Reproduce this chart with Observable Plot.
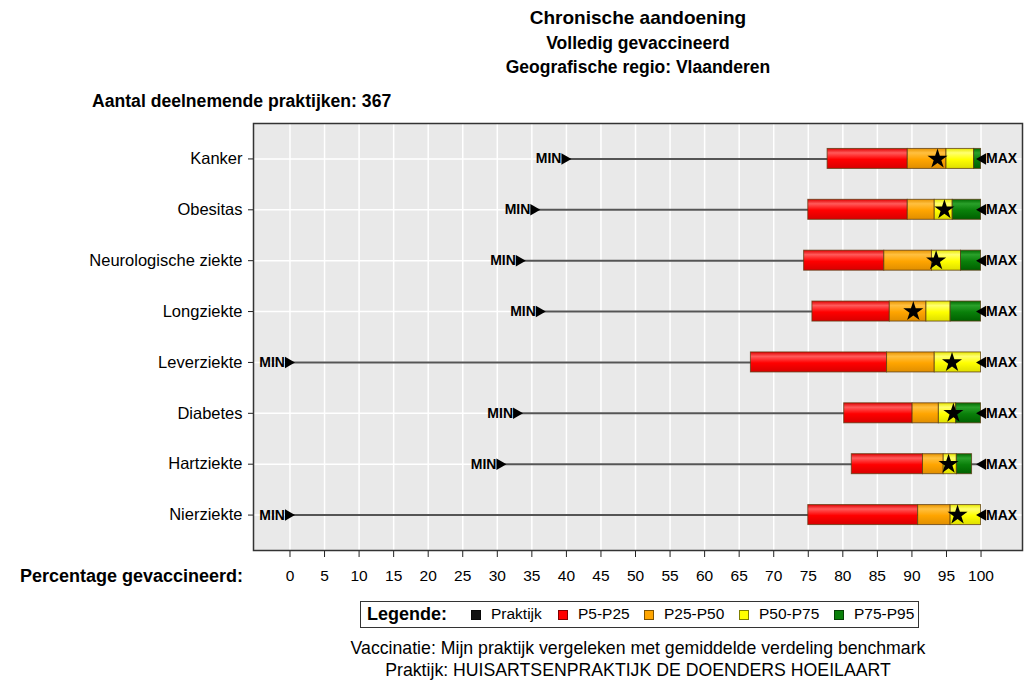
<!DOCTYPE html>
<html>
<head>
<meta charset="utf-8">
<script src="https://cdn.jsdelivr.net/npm/d3@7"></script>
<script src="https://cdn.jsdelivr.net/npm/@observablehq/plot@0.6"></script>
<style>
  html, body { margin: 0; padding: 0; background: #fff; }
  #wrap { position: relative; width: 1024px; height: 683px; font-family: "Liberation Sans", Arial, sans-serif; color: #000; }
  .t { position: absolute; white-space: nowrap; }
  .c { transform: translateX(-50%); }
  #chart { position: absolute; left: 0; top: 0; }
  #legend { position: absolute; left: 360px; top: 601px; width: 557px; height: 25px; border: 1.5px solid #333; box-sizing: content-box; font-size: 15.5px; }
  #legend .lab { position: absolute; left: 6px; top: 2px; font-weight: bold; font-size: 18px; }
  #legend .sw { position: absolute; top: 8px; width: 8px; height: 8px; border: 1px solid rgba(0,0,0,0.5); }
  #legend .tx { position: absolute; top: 3px; white-space: nowrap; }
</style>
</head>
<body>
<div id="wrap">
  <div id="chart"></div>
  <div class="t c" style="left:638px; top:7px; font-size:19px; font-weight:bold;">Chronische aandoening</div>
  <div class="t c" style="left:638px; top:33px; font-size:17.5px; font-weight:bold;">Volledig gevaccineerd</div>
  <div class="t c" style="left:638px; top:57px; font-size:17.5px; font-weight:bold;">Geografische regio: Vlaanderen</div>
  <div class="t" style="left:92px; top:91px; font-size:17.6px; font-weight:bold;">Aantal deelnemende praktijken: 367</div>
  <div class="t" style="left:20px; top:566px; font-size:18px; font-weight:bold;">Percentage gevaccineerd:</div>
  <div id="legend"></div>
  <div class="t c" style="left:638px; top:638px; font-size:17.7px;">Vaccinatie: Mijn praktijk vergeleken met gemiddelde verdeling benchmark</div>
  <div class="t c" style="left:638px; top:660px; font-size:17.7px;">Praktijk: HUISARTSENPRAKTIJK DE DOENDERS HOEILAART</div>
</div>
<script>
// ---- data ----
const categories = ["Kanker", "Obesitas", "Neurologische ziekte", "Longziekte", "Leverziekte", "Diabetes", "Hartziekte", "Nierziekte"];
const minValues  = [40.0, 35.5, 33.4, 36.3, 0.0, 33.0, 30.6, 0.0];
const p5Values   = [77.8, 75.0, 74.4, 75.6, 66.7, 80.2, 81.3, 75.0];
const p25Values  = [89.4, 89.4, 86.0, 86.8, 86.4, 90.1, 91.6, 90.9];
const p50Values  = [95.0, 93.3, 92.9, 92.1, 93.3, 93.9, 94.6, 95.6];
const p75Values  = [99.0, 95.9, 97.1, 95.6, 100.0, 96.4, 96.5, 100.0];
const p95Values  = [100.0, 100.0, 100.0, 100.0, 100.0, 100.0, 98.7, 100.0];
const maxValues  = [100, 100, 100, 100, 100, 100, 100, 100];
const praktijkValues = [93.7, 94.7, 93.5, 90.2, 95.8, 96.0, 95.3, 96.6];
const xTicks = d3.range(0, 101, 5);
const legendLabels = ["Praktijk", "P5-P25", "P25-P50", "P50-P75", "P75-P95"];
const legendColors = ["#111111", "#ff0000", "#ffa500", "#ffff00", "#0a800a"];

const rows = categories.map((c, i) => ({
  cat: c, min: minValues[i], p5: p5Values[i], p25: p25Values[i], p50: p50Values[i],
  p75: p75Values[i], p95: p95Values[i], max: maxValues[i], prak: praktijkValues[i]
}));

const segments = [
  {a: "p5", b: "p25", g: "gRed"},
  {a: "p25", b: "p50", g: "gOrange"},
  {a: "p50", b: "p75", g: "gYellow"},
  {a: "p75", b: "p95", g: "gGreen"}
];

const triRight = {draw(ctx, size) { const r = Math.sqrt(size / Math.PI); ctx.moveTo(r, 0); ctx.lineTo(-r, -r * 1.15); ctx.lineTo(-r, r * 1.15); ctx.closePath(); }};
const triLeft  = {draw(ctx, size) { const r = Math.sqrt(size / Math.PI); ctx.moveTo(-r, 0); ctx.lineTo(r, -r * 1.15); ctx.lineTo(r, r * 1.15); ctx.closePath(); }};

const barMarks = segments.map(s => Plot.barX(rows.filter(d => d[s.b] - d[s.a] > 0.01), {
  y: "cat", x1: s.a, x2: s.b, fill: `url(#${s.g})`, stroke: "#5a3a10", strokeOpacity: 0.75, strokeWidth: 1
}));

const chart = Plot.plot({
  width: 1024,
  height: 600,
  marginTop: 123,
  marginBottom: 50,
  marginLeft: 253,
  marginRight: 2,
  style: {fontFamily: '"Liberation Sans", Arial, sans-serif', fontSize: "15px", background: "transparent", color: "#000", overflow: "visible"},
  x: {domain: [-5.28, 106], label: null},
  y: {domain: categories, paddingInner: 0.607, paddingOuter: 0.5, round: false, label: null},
  marks: [
    Plot.frame({fill: "#e9e9e9"}),
    Plot.gridX(xTicks, {stroke: "#ffffff", strokeOpacity: 1, strokeWidth: 1.5}),
    Plot.gridY({stroke: "#ffffff", strokeOpacity: 1, strokeWidth: 1.5}),
    Plot.axisX(xTicks, {tickSize: 7, tickPadding: 12, fontSize: 15.5, label: null, stroke: "#222"}),
    Plot.axisY({tickSize: 5, tickPadding: 6, fontSize: 16.5, label: null, stroke: "#222"}),
    Plot.ruleY(rows, {y: "cat", x1: "min", x2: "max", stroke: "#555", strokeWidth: 2}),
    ...barMarks,
    Plot.dot(rows, {x: "min", y: "cat", symbol: triRight, r: 5, fill: "#000", stroke: "none"}),
    Plot.text(rows, {x: "min", y: "cat", text: () => "MIN", textAnchor: "end", dx: -5, fontWeight: "bold", fontSize: 14, fill: "#000"}),
    Plot.dot(rows, {x: "max", y: "cat", symbol: triLeft, r: 5, fill: "#000", stroke: "none"}),
    Plot.text(rows, {x: "max", y: "cat", text: () => "MAX", textAnchor: "start", dx: 5, fontWeight: "bold", fontSize: 14, fill: "#000"}),
    Plot.dot(rows, {x: "prak", y: "cat", symbol: "star", r: 6.3, fill: "#000", stroke: "none"}),
    Plot.frame({stroke: "#333", strokeWidth: 1.5})
  ]
});

// gradients for glossy bars
const grads = {
  gRed:    ["#e00000", "#ff5a5a", "#ff0000", "#d80000"],
  gOrange: ["#e89400", "#ffc040", "#ffa500", "#e08e00"],
  gYellow: ["#e8e800", "#ffff70", "#ffff00", "#dede00"],
  gGreen:  ["#006a00", "#2aa02a", "#0a800a", "#006000"]
};
const ns = "http://www.w3.org/2000/svg";
const defs = document.createElementNS(ns, "defs");
for (const [id, cols] of Object.entries(grads)) {
  const lg = document.createElementNS(ns, "linearGradient");
  lg.setAttribute("id", id); lg.setAttribute("x1", "0"); lg.setAttribute("y1", "0"); lg.setAttribute("x2", "0"); lg.setAttribute("y2", "1");
  [[0, cols[0]], [0.22, cols[1]], [0.55, cols[2]], [1, cols[3]]].forEach(([o, c]) => {
    const st = document.createElementNS(ns, "stop");
    st.setAttribute("offset", o); st.setAttribute("stop-color", c); lg.appendChild(st);
  });
  defs.appendChild(lg);
}
chart.insertBefore(defs, chart.firstChild);
document.getElementById("chart").appendChild(chart);

// legend
const legendSwatchX = [110, 197, 283, 378, 473];
const leg = document.getElementById("legend");
const lab = document.createElement("span"); lab.className = "lab"; lab.textContent = "Legende:"; leg.appendChild(lab);
legendLabels.forEach((l, i) => {
  const sw = document.createElement("span"); sw.className = "sw"; sw.style.background = legendColors[i]; sw.style.left = legendSwatchX[i] + "px";
  const tx = document.createElement("span"); tx.className = "tx"; tx.textContent = l; tx.style.left = (legendSwatchX[i] + 20) + "px";
  leg.appendChild(sw); leg.appendChild(tx);
});
</script>
</body>
</html>
